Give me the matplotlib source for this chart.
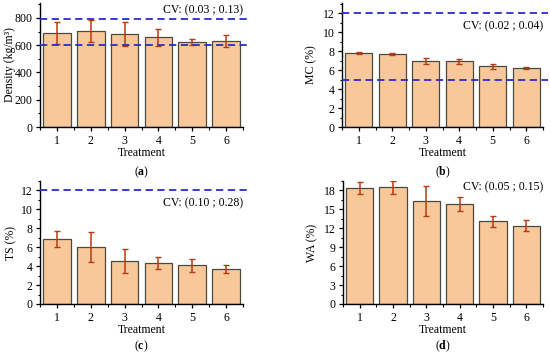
import matplotlib

matplotlib.use("Agg")
import matplotlib.pyplot as plt
from matplotlib.ticker import MultipleLocator

plt.rcParams["font.family"] = ["Liberation Serif", "DejaVu Serif"]
plt.rcParams["mathtext.fontset"] = "custom"
plt.rcParams["mathtext.rm"] = "Liberation Serif"
plt.rcParams["mathtext.bf"] = "Liberation Serif:bold"

treatments = [1, 2, 3, 4, 5, 6]

density = [690, 702, 680, 658, 623, 633]
density_err = [80, 81, 88, 63, 23, 44]

mc = [7.80, 7.72, 6.95, 6.92, 6.42, 6.25]
mc_err = [0.10, 0.10, 0.30, 0.28, 0.25, 0.10]

ts = [6.85, 6.00, 4.55, 4.35, 4.10, 3.70]
ts_err = [0.85, 1.60, 1.30, 0.60, 0.70, 0.38]

wa = [18.4, 18.5, 16.35, 15.85, 13.1, 12.4]
wa_err = [0.90, 1.06, 2.40, 1.06, 0.82, 0.85]

BAR = "#F8C89A"
EDGE = "#4B4A3C"
ERR = "#B83A12"
REF = "#2A2ACF"

panels = [
    # values, errors, ylabel, ylim, major, minor, ref lines, cv text, cv y, tag
    (density, density_err, "Density (kg/m³)", 910, 200, 100, [795, 603],
     "CV: (0.03 ; 0.13)", 0.94, "a"),
    (mc, mc_err, "MC (%)", 13.1, 2, 1, [12, 5],
     "CV: (0.02 ; 0.04)", 0.81, "b"),
    (ts, ts_err, "TS (%)", 13.0, 2, 1, [12],
     "CV: (0.10 ; 0.28)", 0.82, "c"),
    (wa, wa_err, "WA (%)", 19.5, 3, 1.5, [],
     "CV: (0.05 ; 0.15)", 0.95, "d"),
]

W, H = 550, 353
# axes boxes in pixels: left, top, right, bottom
boxes_px = [
    (40, 3, 243, 127),
    (342, 3, 543, 127),
    (40, 181, 243, 304),
    (343, 181, 543, 304),
]
tag_y_px = [172, 172, 346, 346]
ylabel_x_px = [16, 317, 17, 318]  # right edge of the rotated y label

fig = plt.figure(figsize=(W / 100, H / 100), dpi=100)

for (l, t, r, b), ty, yx, (vals, errs, ylab, ytop, major, minor, refs, cv, cvy, tag) in zip(
        boxes_px, tag_y_px, ylabel_x_px, panels):
    ax = fig.add_axes((l / W, 1 - b / H, (r - l) / W, (b - t) / H))
    ax.bar(treatments, vals, width=0.82, color=BAR, edgecolor=EDGE, linewidth=0.9,
           zorder=2)
    ax.errorbar(treatments, vals, yerr=errs, fmt="none", ecolor=ERR, elinewidth=1.1,
                capsize=2.2, capthick=1.0, zorder=3)
    for ref in refs:
        ax.axhline(ref, xmin=0, xmax=1.025, color=REF, ls=(0, (4, 2.5)), lw=1.3,
                   clip_on=False, zorder=4)
    ax.set_xlim(0.5, 6.5)
    ax.set_ylim(0, ytop)
    ax.set_xticks(treatments)
    ax.xaxis.set_minor_locator(MultipleLocator(0.5))
    ax.yaxis.set_major_locator(MultipleLocator(major))
    ax.yaxis.set_minor_locator(MultipleLocator(minor))
    ax.tick_params(which="major", direction="out", length=3, width=0.9,
                   labelsize=8.5, pad=2.5)
    ax.tick_params(which="minor", direction="out", length=1.8, width=0.8)
    for s in ("top", "right"):
        ax.spines[s].set_visible(False)
    for s in ("left", "bottom"):
        ax.spines[s].set_linewidth(1.0)
    ax.set_xlabel("Treatment", fontsize=8.5, labelpad=0)
    ax.set_ylabel(ylab, fontsize=8.5)
    ax.yaxis.set_label_coords((yx - l) / (r - l), 0.5)
    ax.text(1.0, cvy, cv, transform=ax.transAxes, ha="right", va="center",
            fontsize=8.5)
    fig.text((l + r) / 2 / W, 1 - ty / H, "($\\mathbf{%s}$)" % tag, ha="center",
             va="center", fontsize=8.5)

fig.savefig("out.png", dpi=100)
